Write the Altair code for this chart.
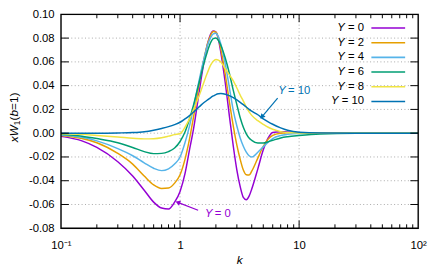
import altair as alt
import pandas as pd

# ---------------- data ----------------
K = [0.1, 0.15, 0.2, 0.3, 0.4, 0.5, 0.6, 0.7, 0.8, 0.9,
     1.0, 1.1, 1.2, 1.3, 1.4, 1.5, 1.6, 1.7, 1.8, 1.9,
     2.0, 2.1, 2.2, 2.4, 2.6, 2.8, 3.0, 3.2, 3.4, 3.6,
     3.8, 4.0, 4.5, 5.0, 5.5, 6.0, 7.0, 8.0, 10, 15,
     30, 100]

Y0 = [-0.0027, -0.0065, -0.012, -0.024, -0.036, -0.048, -0.058, -0.063, -0.0638, -0.058,
      -0.049, -0.034, -0.014, 0.004, 0.025, 0.045, 0.062, 0.075, 0.083, 0.086,
      0.085, 0.079, 0.068, 0.042, 0.014, -0.011, -0.031, -0.045, -0.054, -0.056,
      -0.053, -0.047, -0.030, -0.014, -0.004, 0.0005, 0.0013, 0.001, 0.0004, 0.0001,
      0.0, 0.0]
Y2 = [-0.002, -0.0045, -0.008, -0.017, -0.026, -0.036, -0.0435, -0.0465, -0.0462, -0.042,
      -0.035, -0.022, -0.005, 0.014, 0.033, 0.050, 0.064, 0.075, 0.082, 0.0855,
      0.085, 0.080, 0.071, 0.049, 0.026, 0.006, -0.010, -0.022, -0.031, -0.035,
      -0.0352, -0.032, -0.021, -0.011, -0.005, -0.0018, 0.0, 0.0004, 0.0002, 0.0001,
      0.0, 0.0]
Y4 = [-0.0015, -0.0035, -0.0065, -0.013, -0.019, -0.025, -0.0295, -0.0315, -0.030, -0.026,
      -0.020, -0.008, 0.006, 0.022, 0.038, 0.052, 0.064, 0.074, 0.080, 0.0835,
      0.084, 0.081, 0.075, 0.058, 0.038, 0.019, 0.006, -0.004, -0.011, -0.016,
      -0.019, -0.020, -0.016, -0.0115, -0.0075, -0.0045, -0.002, -0.001, -0.0003, 0.0,
      0.0, 0.0]
Y6 = [-0.001, -0.0025, -0.0045, -0.008, -0.012, -0.0155, -0.0172, -0.017, -0.0155, -0.0125,
      -0.007, 0.001, 0.012, 0.024, 0.037, 0.049, 0.060, 0.069, 0.076, 0.0795,
      0.080, 0.078, 0.074, 0.063, 0.050, 0.036, 0.024, 0.013, 0.005, -0.0005,
      -0.004, -0.006, -0.0083, -0.0083, -0.0072, -0.006, -0.004, -0.003, -0.002, -0.0007,
      -0.0001, 0.0]
Y8 = [-0.0005, -0.001, -0.002, -0.0032, -0.0042, -0.0048, -0.0046, -0.0038, -0.0025, -0.0012,
      -0.0003, 0.005, 0.012, 0.020, 0.028, 0.036, 0.044, 0.051, 0.057, 0.0605,
      0.062, 0.0615, 0.060, 0.054, 0.049, 0.044, 0.038, 0.032, 0.027, 0.022,
      0.018, 0.015, 0.0105, 0.0075, 0.005, 0.0033, 0.0013, 0.0005, 0.0001, 0.0,
      0.0, 0.0]
Y10 = [0.0, 0.0, 0.0, 0.0002, 0.0005, 0.0012, 0.0025, 0.004, 0.0055, 0.0072,
       0.0092, 0.012, 0.0148, 0.0178, 0.0208, 0.0236, 0.026, 0.028, 0.0298, 0.0313,
       0.0325, 0.0331, 0.0333, 0.0328, 0.0315, 0.030, 0.028, 0.026, 0.024, 0.022,
       0.020, 0.0185, 0.0155, 0.012, 0.0095, 0.0075, 0.0045, 0.0025, 0.0008, 0.0001,
       0.0, 0.0]

SERIES = ["0", "2", "4", "6", "8", "10"]
VALUES = [Y0, Y2, Y4, Y6, Y8, Y10]
COLORS = ["#9400D3", "#E69F00", "#56B4E9", "#009E73", "#F0E442", "#0072B2"]

X_MAJOR = [0.1, 1, 10, 100]
X_LABELS = ["10⁻¹", "1", "10", "10²"]
X_MINOR = [0.2, 0.3, 0.4, 0.5, 0.6, 0.7, 0.8, 0.9,
           2, 3, 4, 5, 6, 7, 8, 9,
           20, 30, 40, 50, 60, 70, 80, 90]
Y_MAJOR = [-0.08, -0.06, -0.04, -0.02, 0.0, 0.02, 0.04, 0.06, 0.08, 0.10]

# annotations (data coordinates)
ANN_TEXT = ["10", "0"]
ANN_COLOR = ["#0072B2", "#9400D3"]
ANN_K = [6.67, 1.62]
ANN_V = [0.0352, -0.068]
ARROW_K1 = [6.60, 1.418]
ARROW_V1 = [0.0294, -0.0648]
ARROW_K2 = [4.87, 0.957]
ARROW_V2 = [0.0138, -0.0582]
ARROW_ANGLE = [219.5, 291.8]

# ---------------- layout / style ----------------
W, H = 364, 218
FONT = "Liberation Sans"
FS = 11.5

xs = alt.Scale(type="log", domain=[0.1, 100], nice=False)
ys = alt.Scale(domain=[-0.08, 0.10], nice=False, zero=False)

label_expr_x = " : ".join(
    [f"abs(datum.value - {v}) < 1e-6 * {v} ? '{t}'" for v, t in zip(X_MAJOR, X_LABELS)]
) + " : ''"

AX = alt.Axis(
    values=X_MAJOR, labelExpr=label_expr_x, grid=False, ticks=False, tickSize=0, domain=False,
    labelFont=FONT, labelFontSize=FS, labelColor="black", labelPadding=12,
    title=None, labelFlush=False)
AY = alt.Axis(
    values=Y_MAJOR,
    labelExpr="(datum.value < -1e-9 ? '-' : '') + format(abs(datum.value), '.2f')",
    grid=False, ticks=False, tickSize=0, domain=False, labelFont=FONT, labelFontSize=FS,
    labelColor="black", labelPadding=7, title=None, labelFlush=False)


def X(field):
    return alt.X(field, scale=xs, axis=AX)


def Y(field):
    return alt.Y(field, scale=ys, axis=AY)


GRID = dict(color="#a8a8a8", strokeWidth=1, strokeDash=[1, 2.5])
layers = []

# dotted grid at inner major ticks
layers.append(alt.Chart(pd.DataFrame({"k": X_MAJOR[1:-1]})).mark_rule(**GRID).encode(
    x=X("k:Q"), y=alt.value(0), y2=alt.value(H)))
layers.append(alt.Chart(pd.DataFrame({"v": Y_MAJOR[1:-1]})).mark_rule(**GRID).encode(
    y=Y("v:Q"), x=alt.value(0), x2=alt.value(W)))

# curves
for s, vals, c in zip(SERIES, VALUES, COLORS):
    d = pd.DataFrame({"k": K, "v": vals})
    layers.append(
        alt.Chart(d).mark_line(color=c, strokeWidth=1.5, interpolate="monotone", clip=True).encode(
            x=X("k:Q"), y=Y("v:Q"))
    )

# inward ticks (mirrored on all sides)
xmaj = pd.DataFrame({"k": X_MAJOR[1:-1]})
xmin = pd.DataFrame({"k": X_MINOR})
ymaj = pd.DataFrame({"v": Y_MAJOR[1:-1]})
for dfx, ln in [(xmaj, 8), (xmin, 4)]:
    layers.append(alt.Chart(dfx).mark_rule(color="black", strokeWidth=1).encode(
        x=X("k:Q"), y=alt.value(H), y2=alt.value(H - ln)))
    layers.append(alt.Chart(dfx).mark_rule(color="black", strokeWidth=1).encode(
        x=X("k:Q"), y=alt.value(0), y2=alt.value(ln)))
layers.append(alt.Chart(ymaj).mark_rule(color="black", strokeWidth=1).encode(
    y=Y("v:Q"), x=alt.value(0), x2=alt.value(8)))
layers.append(alt.Chart(ymaj).mark_rule(color="black", strokeWidth=1).encode(
    y=Y("v:Q"), x=alt.value(W), x2=alt.value(W - 8)))

# plot frame
layers.append(alt.Chart(pd.DataFrame({"a": [0]})).mark_rect(
    fill=None, stroke="black", strokeWidth=1.4).encode(
    x=alt.value(0), x2=alt.value(W), y=alt.value(0), y2=alt.value(H)))

# annotations: arrows + text
arr = pd.DataFrame({"k1": ARROW_K1, "v1": ARROW_V1, "k2": ARROW_K2, "v2": ARROW_V2,
                    "c": ANN_COLOR, "a": ARROW_ANGLE})
layers.append(alt.Chart(arr).mark_rule(strokeWidth=1.2).encode(
    x=X("k1:Q"), y=Y("v1:Q"), x2="k2:Q", y2="v2:Q", color=alt.Color("c:N", scale=None)))
layers.append(alt.Chart(arr).mark_point(shape="triangle-up", filled=True, size=32, opacity=1).encode(
    x=X("k2:Q"), y=Y("v2:Q"),
    color=alt.Color("c:N", scale=None), angle=alt.Angle("a:Q", scale=None)))
ann = pd.DataFrame({"k": ANN_K, "v": ANN_V, "t": ["= " + t for t in ANN_TEXT], "c": ANN_COLOR})
layers.append(alt.Chart(ann).mark_text(text="Y", fontStyle="italic", align="left", baseline="middle",
                                       font=FONT, fontSize=FS).encode(
    x=X("k:Q"), y=Y("v:Q"), color=alt.Color("c:N", scale=None)))
layers.append(alt.Chart(ann).mark_text(align="left", baseline="middle", dx=10,
                                       font=FONT, fontSize=FS).encode(
    x=X("k:Q"), y=Y("v:Q"), text="t:N", color=alt.Color("c:N", scale=None)))

# legend (label left of the line sample, gnuplot style)
LEG_Y0, LEG_DY = 13.9, 14.98
LEG_TXT_X, LEG_L1, LEG_L2 = 308.7, 316.3, 350.7
leg = pd.DataFrame({
    "yp": [LEG_Y0 + i * LEG_DY for i in range(len(SERIES))],
    "t": ["= " + s for s in SERIES],
    "xY": [LEG_TXT_X - 19.5 - 6.5 * (len(s) - 1) for s in SERIES],
    "c": COLORS,
})
layers.append(alt.Chart(leg).mark_rule(strokeWidth=1.6).encode(
    x=alt.value(LEG_L1), x2=alt.value(LEG_L2), y=alt.Y("yp:Q", scale=None),
    color=alt.Color("c:N", scale=None)))
layers.append(alt.Chart(leg).mark_text(align="right", baseline="middle", font=FONT,
                                       fontSize=FS, color="black").encode(
    x=alt.value(LEG_TXT_X), y=alt.Y("yp:Q", scale=None), text="t:N"))
layers.append(alt.Chart(leg).mark_text(text="Y", fontStyle="italic", align="right", baseline="middle",
                                       font=FONT, fontSize=FS, color="black").encode(
    x=alt.X("xY:Q", scale=None), y=alt.Y("yp:Q", scale=None)))

# y-axis title  x W_1 (b=1), built from pieces, rotated
TFS = 12
pieces = [("x", "italic", TFS, 6.0, 0), ("W", "italic", TFS, 11.3, 0), ("1", "normal", 8.5, 4.8, 3),
          ("(", "normal", TFS, 4.0, 0), ("b", "italic", TFS, 6.7, 0), ("=1)", "normal", TFS, 17.7, 0)]
total = sum(p[3] for p in pieces)
ystart = 105 + total / 2
TX = -48
cum = 0.0
for txt, style, fsz, wdt, sub in pieces:
    layers.append(alt.Chart(pd.DataFrame({"a": [0]})).mark_text(
        text=txt, fontStyle=style, fontSize=fsz, font=FONT, angle=270, align="left",
        baseline="middle", color="black").encode(
        x=alt.value(TX + sub), y=alt.value(ystart - cum)))
    cum += wdt

# x-axis title
layers.append(alt.Chart(pd.DataFrame({"a": [0]})).mark_text(
    text="k", fontStyle="italic", fontSize=TFS, font=FONT, align="center",
    baseline="alphabetic", color="black").encode(x=alt.value(W / 2), y=alt.value(254)))

chart = alt.layer(*layers).properties(
    width=W, height=H,
    autosize=alt.AutoSizeParams(type="none"),
    padding={"left": 54, "top": 4, "right": 10, "bottom": 36},
).configure_view(stroke=None).configure(background="white")

chart.save("out.html", embed_options={"renderer": "svg", "actions": False})
